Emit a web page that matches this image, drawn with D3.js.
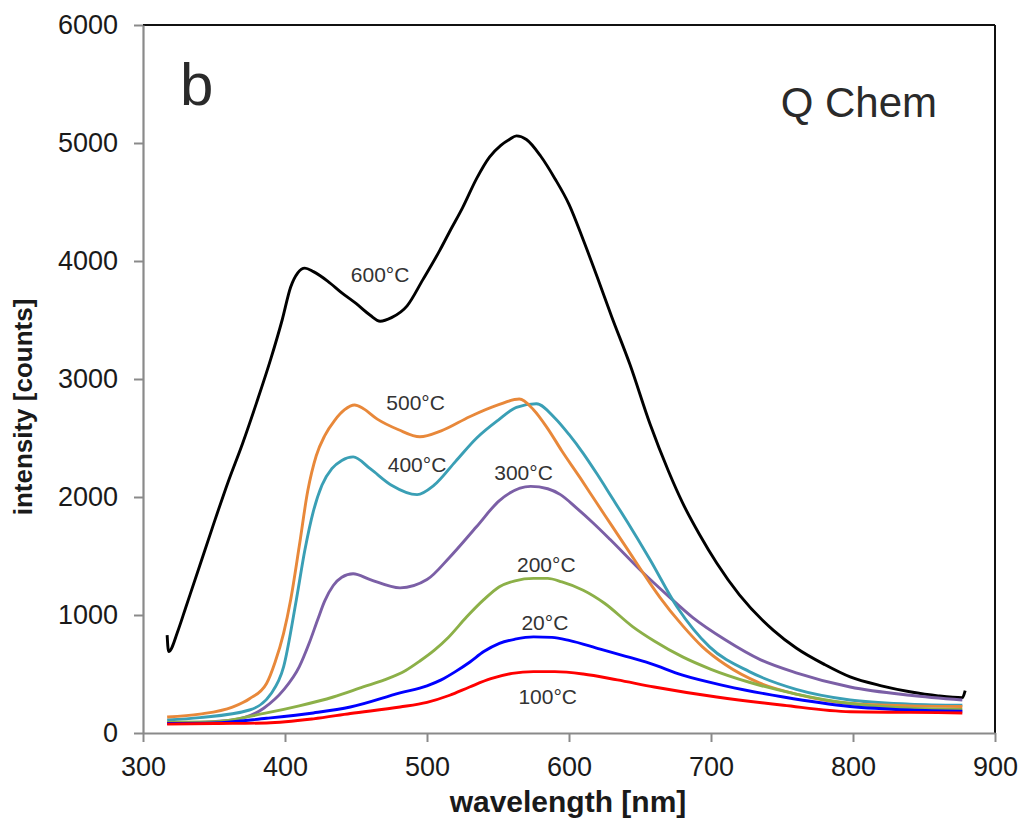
<!DOCTYPE html>
<html>
<head>
<meta charset="utf-8">
<script src="https://cdn.jsdelivr.net/npm/d3@7"></script>
<style>
  html, body { margin: 0; padding: 0; background: #fff; }
  svg { display: block; font-family: "Liberation Sans", Arial, sans-serif; }
</style>
</head>
<body>
<svg id="chart" width="1022" height="828"></svg>
<script>
// Photoluminescence spectra, [wavelength nm, intensity counts]
const s600 = [[317,830],[318,690],[325,880],[330,1060],[340,1420],[349,1745],[360,2130],[370,2450],[380,2800],[390,3170],[398,3500],[404,3780],[409,3900],[414,3940],[420,3910],[430,3830],[440,3730],[450,3640],[460,3540],[467,3490],[475,3520],[486,3620],[497,3840],[509,4090],[516,4250],[525,4450],[535,4700],[544,4880],[552,4980],[558,5030],[563,5060],[570,5030],[580,4890],[590,4700],[600,4480],[610,4180],[620,3860],[630,3530],[643,3120],[657,2620],[670,2220],[680,1950],[692,1680],[704,1440],[720,1170],[744,870],[760,720],[780,580],[798,475],[820,400],[840,350],[860,315],[877,300],[879,360]];
const s500 = [[317,135],[340,160],[363,220],[375,290],[387,420],[393,600],[399,845],[404,1130],[410,1580],[416,2050],[422,2350],[428,2520],[435,2650],[442,2740],[449,2780],[455,2750],[465,2660],[480,2570],[495,2510],[510,2560],[530,2680],[550,2780],[565,2830],[575,2740],[585,2580],[595,2390],[608,2160],[620,1940],[630,1760],[641,1560],[657,1270],[664,1150],[680,910],[694,730],[710,580],[734,425],[760,330],[798,250],[840,230],[877,225]];
const s400 = [[317,110],[340,130],[375,195],[390,330],[399,560],[408,1130],[414,1550],[420,1880],[426,2100],[433,2240],[440,2310],[448,2340],[460,2240],[475,2100],[493,2020],[505,2100],[520,2300],[535,2500],[550,2650],[563,2760],[577,2790],[590,2670],[600,2530],[610,2370],[620,2190],[630,2000],[641,1790],[657,1470],[676,1070],[699,730],[727,520],[760,370],[798,280],[840,245],[877,235]];
const s300 = [[317,85],[340,90],[363,110],[385,210],[399,365],[410,560],[417,760],[423,960],[428,1120],[434,1250],[440,1320],[448,1350],[460,1300],[481,1230],[500,1300],[516,1490],[535,1750],[551,1970],[573,2090],[585,2070],[594,2020],[605,1910],[617,1780],[629,1640],[652,1360],[670,1160],[687,980],[710,790],[735,620],[760,510],[798,390],[840,320],[877,280]];
const s200 = [[317,90],[350,95],[387,170],[410,230],[434,305],[455,390],[470,450],[485,530],[495,610],[505,700],[515,810],[528,985],[540,1130],[551,1240],[562,1290],[575,1310],[585,1310],[595,1280],[610,1210],[625,1100],[645,900],[660,780],[680,645],[700,540],[727,430],[760,330],[798,250],[840,210],[877,200]];
const s20 = [[317,80],[350,85],[387,125],[420,170],[446,220],[481,340],[500,400],[510,450],[520,520],[530,600],[540,690],[551,760],[562,795],[575,815],[588,810],[600,785],[622,710],[640,650],[657,590],[680,490],[710,400],[751,305],[798,225],[840,195],[877,185]];
const s100 = [[317,75],[350,80],[387,85],[420,120],[446,165],[481,220],[500,260],[516,320],[530,390],[545,460],[560,505],[575,520],[590,520],[610,500],[634,450],[660,390],[704,305],[751,235],[798,180],[840,175],[877,170]];

const xTicks = [300, 400, 500, 600, 700, 800, 900];
const yTicks = [0, 1000, 2000, 3000, 4000, 5000, 6000];

// series, drawn back to front, with label anchors [wavelength, intensity]
const series = [
  { name: "600°C", data: s600, color: "#000000", label: [467, 3822] },
  { name: "300°C", data: s300, color: "#7b5fa6", label: [568, 2144] },
  { name: "400°C", data: s400, color: "#3a9fb5", label: [493, 2212] },
  { name: "500°C", data: s500, color: "#e8883a", label: [492, 2737] },
  { name: "200°C", data: s200, color: "#8cb048", label: [584, 1364] },
  { name: "20°C",  data: s20,  color: "#0000ff", label: [583, 873] },
  { name: "100°C", data: s100, color: "#ff0000", label: [585, 246] }
];

const svg = d3.select("#chart");
const plotLeft = 143, plotRight = 995, plotTop = 25, plotBottom = 733;

const x = d3.scaleLinear().domain([300, 900]).range([plotLeft, plotRight]);
const y = d3.scaleLinear().domain([0, 6000]).range([plotBottom, plotTop]);

// frame: black top and right edges
svg.append("line").attr("x1", plotLeft).attr("x2", plotRight).attr("y1", plotTop).attr("y2", plotTop)
  .attr("stroke", "#111").attr("stroke-width", 2);
svg.append("line").attr("x1", plotRight).attr("x2", plotRight).attr("y1", plotTop).attr("y2", plotBottom)
  .attr("stroke", "#111").attr("stroke-width", 2);

const line = d3.line().x(d => x(d[0])).y(d => y(d[1])).curve(d3.curveMonotoneX);

const plot = svg.append("g");
series.forEach(s => {
  plot.append("path").datum(s.data)
    .attr("d", line)
    .attr("fill", "none")
    .attr("stroke", s.color)
    .attr("stroke-width", 2.9)
    .attr("stroke-linejoin", "round");
});

// gray axes with outward ticks
const xAxis = svg.append("g").attr("transform", `translate(0,${plotBottom})`)
  .call(d3.axisBottom(x).tickValues(xTicks).tickSize(9).tickPadding(15).tickSizeOuter(0));
const yAxis = svg.append("g").attr("transform", `translate(${plotLeft},0)`)
  .call(d3.axisLeft(y).tickValues(yTicks).tickSize(9).tickPadding(16).tickSizeOuter(0).tickFormat(d3.format("d")));

[xAxis, yAxis].forEach(a => {
  a.select(".domain").attr("stroke", "#8a8a8a").attr("stroke-width", 2.2);
  a.selectAll(".tick line").attr("stroke", "#8a8a8a").attr("stroke-width", 2);
  a.selectAll(".tick text").attr("fill", "#1a1a1a").style("font-size", "27px")
    .style("font-family", "'Liberation Sans', Arial, sans-serif");
});

// axis titles
svg.append("text").attr("x", 568).attr("y", 812).attr("text-anchor", "middle")
  .attr("font-weight", "bold").attr("font-size", 30).attr("fill", "#1a1a1a")
  .text("wavelength [nm]");
svg.append("text").attr("transform", "translate(32,407) rotate(-90)").attr("text-anchor", "middle")
  .attr("font-weight", "bold").attr("font-size", 26).attr("fill", "#1a1a1a")
  .text("intensity [counts]");

// panel letter and sample name
svg.append("text").attr("x", 180).attr("y", 105).attr("font-size", 60).attr("fill", "#2a2a2a").text("b");
svg.append("text").attr("x", 937).attr("y", 117).attr("text-anchor", "end")
  .attr("font-size", 42).attr("fill", "#2a2a2a").text("Q Chem");

// series labels
series.forEach(s => {
  svg.append("text").attr("x", x(s.label[0])).attr("y", y(s.label[1]))
    .attr("text-anchor", "middle").attr("font-size", 21).attr("fill", "#333")
    .text(s.name);
});
</script>
</body>
</html>
